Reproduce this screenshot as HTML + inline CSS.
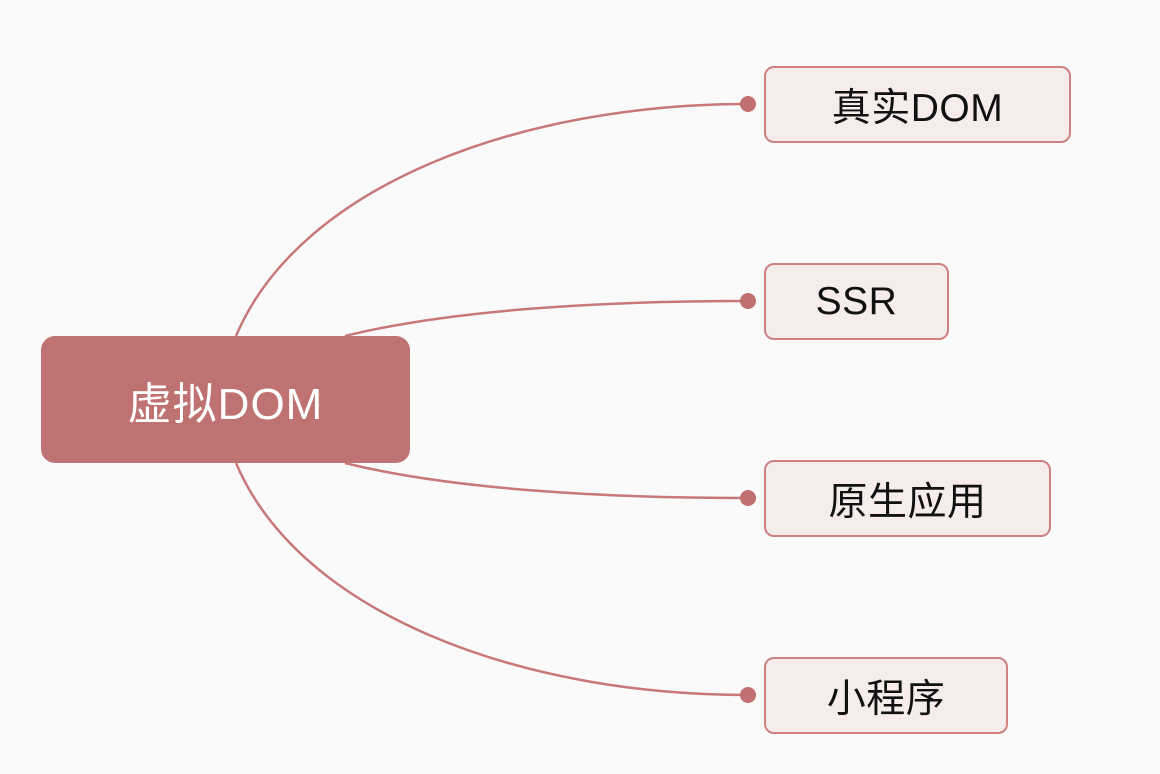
<!DOCTYPE html>
<html><head><meta charset="utf-8"><style>
html,body{margin:0;padding:0;background:#fbfafa;}
body{width:1160px;height:774px;position:relative;overflow:hidden;font-family:"Liberation Sans","Noto Sans CJK SC",sans-serif;}
.main{position:absolute;left:41px;top:336px;width:369px;height:127px;background:#bf7272;border-radius:14px;color:#fff;font-size:44px;letter-spacing:1px;display:flex;align-items:center;justify-content:center;}
.c{position:absolute;left:764px;background:#f6ecec;border:2px solid #cf8080;border-radius:10px;box-sizing:border-box;height:77px;display:flex;align-items:center;justify-content:center;font-size:39px;letter-spacing:0.5px;color:#111;}
svg{position:absolute;left:0;top:0;}
</style></head><body>
<svg width="1160" height="774">
<g fill="none" stroke="#c77878" stroke-width="2.5">
<path d="M236 336 C 300 185, 520 104, 748 104"/>
<path d="M345 336 C 450 310, 600 301, 748 301"/>
<path d="M345 463 C 450 489, 600 498, 748 498"/>
<path d="M236 463 C 300 614, 520 695, 748 695"/>
</g>
<g fill="#c07070">
<circle cx="748" cy="104" r="8"/><circle cx="748" cy="301" r="8"/>
<circle cx="748" cy="498" r="8"/><circle cx="748" cy="695" r="8"/>
</g>
</svg>
<div class="main">虚拟DOM</div>
<div class="c" style="top:66px;width:307px;">真实DOM</div>
<div class="c" style="top:263px;width:185px;">SSR</div>
<div class="c" style="top:460px;width:287px;">原生应用</div>
<div class="c" style="top:657px;width:244px;">小程序</div>
</body></html>
